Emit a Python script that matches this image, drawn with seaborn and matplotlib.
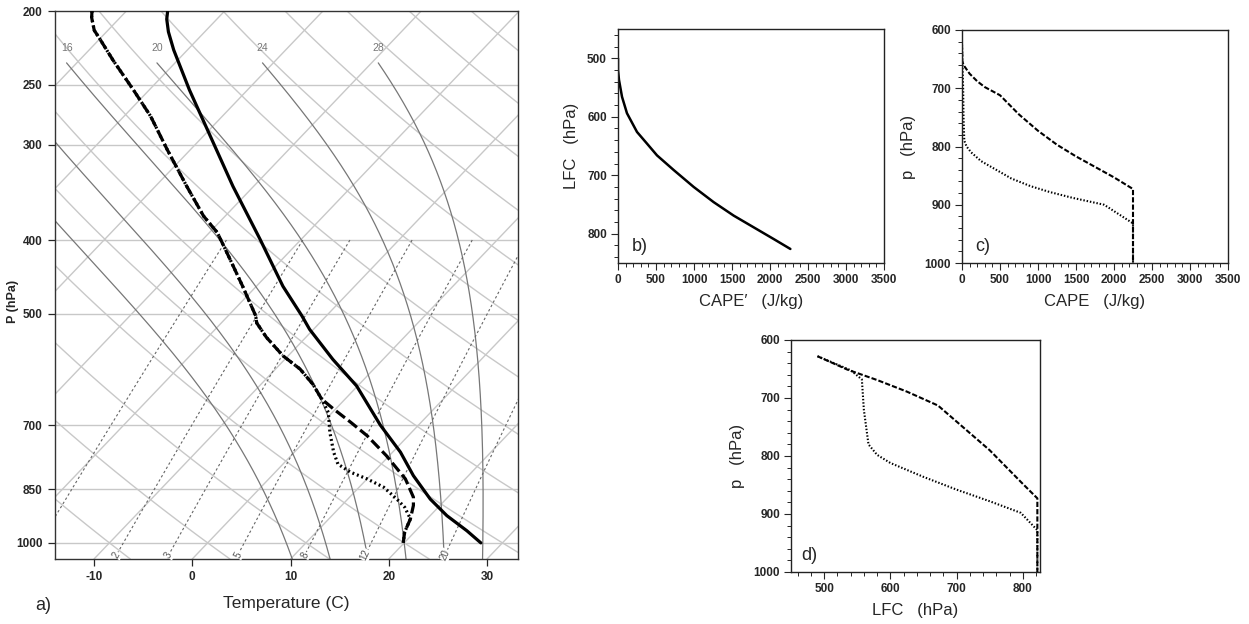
import numpy as np
import matplotlib
matplotlib.use("Agg")
import matplotlib.pyplot as plt
from matplotlib.ticker import MultipleLocator, FixedLocator, NullLocator
import seaborn as sns

sns.set_theme(style="white")
plt.rcParams['font.family'] = ['Liberation Sans', 'DejaVu Sans']

# ---------------- data: panel a (sounding) ----------------
env_p = [200, 205, 213, 225, 254, 292, 340, 399, 460, 503, 524, 574, 622, 700, 760, 816, 876, 921, 964, 1000]
env_T = [-55.8, -55.1, -53.7, -51.4, -45.9, -39.3, -32.1, -24.2, -17.3, -12.5, -10.4, -5.1, -0.1, 6.1,
         10.8, 14.4, 18.4, 21.7, 25.2, 27.8]

td1_p = [200, 204, 212, 218, 232, 254, 275, 304, 340, 372, 391, 424, 460, 503, 514, 537, 568, 591, 619,
         647, 667, 694, 723, 768, 824, 871, 893, 930, 968, 1000]
td1_T = [-63.5, -62.9, -61.4, -59.9, -56.6, -51.6, -47.3, -42.4, -36.8, -32.2, -29.2, -25.3, -21.4, -17.2,
         -16.4, -14.0, -10.5, -7.5, -4.7, -2.4, -0.2, 2.8, 5.8, 9.7, 13.9, 16.5, 17.3, 18.3, 19.0, 19.9]

td2_p = [200, 204, 212, 218, 232, 254, 275, 304, 340, 372, 391, 424, 460, 503, 514, 537, 568, 591, 619,
         647, 674, 716, 760, 788, 807, 824, 845, 876, 898, 930, 968, 1000]
td2_T = [-63.5, -62.9, -61.4, -59.9, -56.6, -51.6, -47.3, -42.4, -36.8, -32.2, -29.2, -25.3, -21.4, -17.2,
         -16.4, -14.0, -10.5, -7.5, -4.7, -2.4, -0.4, 1.7, 4.0, 5.6, 7.6, 10.0, 12.5, 15.0, 16.6, 18.3,
         19.0, 19.9]

p_ticks = [200, 250, 300, 400, 500, 700, 850, 1000]
t_ticks = [-10, 0, 10, 20, 30]
moist_labels = [16, 20, 24, 28]
moist_all = [8, 12, 16, 20, 24, 28]
mix_ratios = [1, 2, 3, 5, 8, 12, 20]

# ---------------- data: panel b ----------------
b_cape = [0, 0, 13, 53, 118, 250, 382, 513, 732, 996, 1259, 1522, 1785, 2048, 2268]
b_lfc = [500, 520, 537, 566, 594, 626, 646, 666, 691, 720, 746, 769, 789, 809, 826]

# ---------------- data: panel c ----------------
c_cape_dash = [0, 5, 30, 100, 200, 300, 400, 500, 750, 1000, 1250, 1500, 1750, 2000, 2250, 2250]
c_p_dash = [625, 655, 662, 675, 688, 698, 705, 712, 745, 773, 797, 817, 835, 853, 873, 1000]
c_cape_dot = [0, 5, 15, 20, 30, 60, 120, 250, 450, 650, 900, 1150, 1450, 1870, 2250, 2250]
c_p_dot = [625, 655, 700, 750, 790, 800, 810, 825, 840, 855, 868, 878, 888, 900, 932, 1000]

# ---------------- data: panel d ----------------
d_lfc_dash = [490, 535, 580, 625, 672, 750, 800, 822, 822]
d_p_dash = [628, 651, 669, 689, 713, 790, 848, 873, 1000]
d_lfc_dot = [490, 540, 557, 560, 567, 580, 600, 650, 700, 750, 797, 822, 822]
d_p_dot = [628, 652, 668, 720, 780, 798, 812, 836, 858, 878, 898, 928, 1000]

# ---------------- skew-T helpers ----------------
K = 32.14
P_BOT = 1050.0
P_TOP = 200.0


def skew(T, p):
    return np.asarray(T, float) + K * np.log(P_BOT / np.asarray(p, float))


def es_hpa(tc):
    return 6.112 * np.exp(17.67 * tc / (tc + 243.5))


def moist_profile(tw, p_lo, p_hi, dp=1.0):
    Rd, Cp, Lv, eps = 287.04, 1005.7, 2.501e6, 0.622

    def dTdp(T, p):
        tc = T - 273.15
        e = es_hpa(tc)
        rs = eps * e / (p - e)
        return (Rd * T + Lv * rs) / (p * (Cp + Lv ** 2 * rs * eps / (Rd * T ** 2)))

    def integ(p0, p1):
        ps = np.arange(p0, p1, dp if p1 > p0 else -dp)
        T = tw + 273.15
        out = [T]
        for i in range(len(ps) - 1):
            h = ps[i + 1] - ps[i]
            k1 = dTdp(T, ps[i])
            k2 = dTdp(T + h * k1, ps[i + 1])
            T = T + 0.5 * h * (k1 + k2)
            out.append(T)
        return ps, np.array(out) - 273.15

    pu, tu = integ(1000.0, p_lo)
    pd_, td_ = integ(1000.0, p_hi)
    p = np.concatenate([pu[::-1], pd_[1:]])
    t = np.concatenate([tu[::-1], td_[1:]])
    return p, t


fig = plt.figure(figsize=(12.49, 6.24), dpi=100)


def fbox(l, r, t, b):
    return [l / 1249, 1 - b / 624, (r - l) / 1249, (b - t) / 624]


GRID = '#c8c8c8'

# ================= panel a =================
ax = fig.add_axes(fbox(55, 518, 11, 559))
ax.set_yscale('log')
xl = (-13.97, 33.15)

pf = np.geomspace(P_TOP, P_BOT, 300)
for t in range(-150, 60, 10):
    ax.plot(skew(np.full_like(pf, t), pf), pf, color=GRID, lw=1.0, zorder=1)
for th in range(-40, 220, 10):
    tk = (th + 273.15) * (pf / 1000.0) ** 0.2857
    ax.plot(skew(tk - 273.15, pf), pf, color=GRID, lw=1.0, zorder=1)
for pl in p_ticks[1:]:
    ax.axhline(pl, color=GRID, lw=1.0, zorder=1)

# moist adiabats
for tw in moist_all:
    pm, tm = moist_profile(tw, 233.0, P_BOT + 1)
    xs = skew(tm, pm)
    ax.plot(xs, pm, color='#777777', lw=0.9, zorder=2)
    if tw in moist_labels:
        ax.text(xs[0], 224, str(tw), ha='center', va='center', fontsize=7.5, color='#777777', zorder=3)

# mixing ratio lines
pw = np.geomspace(400, 1040, 100)
for w in mix_ratios:
    e = w * pw / (622.0 + w)
    lne = np.log(e / 6.112)
    td = 243.5 * lne / (17.67 - lne)
    xs = skew(td, pw)
    ax.plot(xs, pw, color='#666666', lw=0.8, dashes=(2.2, 2.2), zorder=2)

ax.set_xlim(*xl)
ax.set_ylim(P_BOT, P_TOP)
fig.canvas.draw()
for w in mix_ratios:
    pl = 1037.0
    e = w * pl / (622.0 + w)
    lne = np.log(e / 6.112)
    td = 243.5 * lne / (17.67 - lne)
    x0 = float(skew(td, pl))
    if xl[0] < x0 < xl[1]:
        e2 = w * 1000.0 / (622.0 + w)
        l2 = np.log(e2 / 6.112)
        x1 = float(skew(243.5 * l2 / (17.67 - l2), 1000.0))
        d0 = ax.transData.transform((x0, pl))
        d1 = ax.transData.transform((x1, 1000.0))
        ang = np.degrees(np.arctan2(d1[1] - d0[1], d1[0] - d0[0]))
        ax.text(x0, pl, str(w), rotation=ang - 180 if ang > 90 else ang, ha='center', va='center',
                fontsize=7, color='#555555', zorder=3, rotation_mode='anchor',
                bbox=dict(boxstyle='square,pad=0.05', fc='white', ec='none'))

# sounding lines
sns.lineplot(x=skew(env_T, env_p), y=env_p, ax=ax, sort=False, estimator=None, color='black',
             linewidth=2.3, zorder=5)
sns.lineplot(x=skew(td2_T, td2_p), y=td2_p, ax=ax, sort=False, estimator=None, color='black',
             linewidth=2.3, zorder=5)
ax.lines[-1].set_dashes([0.6, 0.9])
sns.lineplot(x=skew(td1_T, td1_p), y=td1_p, ax=ax, sort=False, estimator=None, color='black',
             linewidth=2.3, zorder=6)
ax.lines[-1].set_dashes([3.5, 1.3])

ax.set_xlim(*xl)
ax.set_ylim(P_BOT, P_TOP)
ax.yaxis.set_major_locator(FixedLocator(p_ticks))
ax.yaxis.set_minor_locator(NullLocator())
ax.set_yticklabels([str(v) for v in p_ticks])
ax.set_xticks(t_ticks)
ax.set_xticklabels([str(v) for v in t_ticks])
ax.tick_params(axis='both', which='major', direction='out', length=5, width=0.9, labelsize=8.5,
               bottom=True, left=True, top=False, right=False, pad=4)
for lab in ax.get_xticklabels() + ax.get_yticklabels():
    lab.set_fontweight('bold')
ax.set_xlabel('Temperature (C)', fontsize=12.5, labelpad=9)
ax.set_ylabel('P (hPa)', fontsize=9, fontweight='bold')
ax.yaxis.set_label_coords(-0.078, 0.47)
for s in ax.spines.values():
    s.set_color('#333333')
    s.set_linewidth(1.0)
ax.grid(False)
fig.text(43 / 1249, 1 - 605 / 624, 'a)', fontsize=13, ha='center', va='center')


def style_small(a, xmaj, xmin, ymaj, ymin):
    a.xaxis.set_major_locator(MultipleLocator(xmaj))
    a.xaxis.set_minor_locator(MultipleLocator(xmin))
    a.yaxis.set_major_locator(MultipleLocator(ymaj))
    a.yaxis.set_minor_locator(MultipleLocator(ymin))
    a.tick_params(axis='both', which='major', direction='out', length=5, width=0.8, labelsize=8.5,
                  bottom=True, left=True, top=False, right=False, pad=3)
    a.tick_params(axis='both', which='minor', direction='out', length=3, width=0.7,
                  bottom=True, left=True, top=False, right=False)
    for lab in a.get_xticklabels() + a.get_yticklabels():
        lab.set_fontweight('bold')
    for s in a.spines.values():
        s.set_color('#222222')
        s.set_linewidth(1.0)
    a.grid(False)


# ================= panel b =================
axb = fig.add_axes(fbox(618, 884, 29, 263))
sns.lineplot(x=b_cape, y=b_lfc, ax=axb, sort=False, estimator=None, color='black', linewidth=1.8)
axb.set_xlim(0, 3500)
axb.set_ylim(850, 450)
style_small(axb, 500, 100, 100, 20)
axb.set_xlabel('CAPE\u2032   (J/kg)', fontsize=12, labelpad=6)
axb.set_ylabel('LFC   (hPa)', fontsize=12, labelpad=6)
axb.text(0.05, 0.07, 'b)', transform=axb.transAxes, fontsize=13, ha='left', va='center')

# ================= panel c =================
axc = fig.add_axes(fbox(962, 1228, 30, 263))
sns.lineplot(x=c_cape_dot, y=c_p_dot, ax=axc, sort=False, estimator=None, color='black', linewidth=1.5)
axc.lines[-1].set_dashes([0.7, 0.9])
sns.lineplot(x=c_cape_dash, y=c_p_dash, ax=axc, sort=False, estimator=None, color='black', linewidth=1.5)
axc.lines[-1].set_dashes([2.5, 1.0])
axc.set_xlim(0, 3500)
axc.set_ylim(1000, 600)
style_small(axc, 500, 100, 100, 20)
axc.set_xlabel('CAPE   (J/kg)', fontsize=12, labelpad=6)
axc.set_ylabel('p   (hPa)', fontsize=12, labelpad=6)
axc.text(0.05, 0.07, 'c)', transform=axc.transAxes, fontsize=13, ha='left', va='center')

# ================= panel d =================
axd = fig.add_axes(fbox(791, 1040, 340, 572))
sns.lineplot(x=d_lfc_dot, y=d_p_dot, ax=axd, sort=False, estimator=None, color='black', linewidth=1.5)
axd.lines[-1].set_dashes([0.7, 0.9])
sns.lineplot(x=d_lfc_dash, y=d_p_dash, ax=axd, sort=False, estimator=None, color='black', linewidth=1.5)
axd.lines[-1].set_dashes([2.5, 1.0])
axd.set_xlim(450, 826)
axd.set_ylim(1000, 600)
style_small(axd, 100, 20, 100, 20)
axd.set_xlabel('LFC   (hPa)', fontsize=12, labelpad=6)
axd.set_ylabel('p   (hPa)', fontsize=12, labelpad=6)
axd.text(0.04, 0.07, 'd)', transform=axd.transAxes, fontsize=13, ha='left', va='center')

fig.savefig('out.png', dpi=100)
